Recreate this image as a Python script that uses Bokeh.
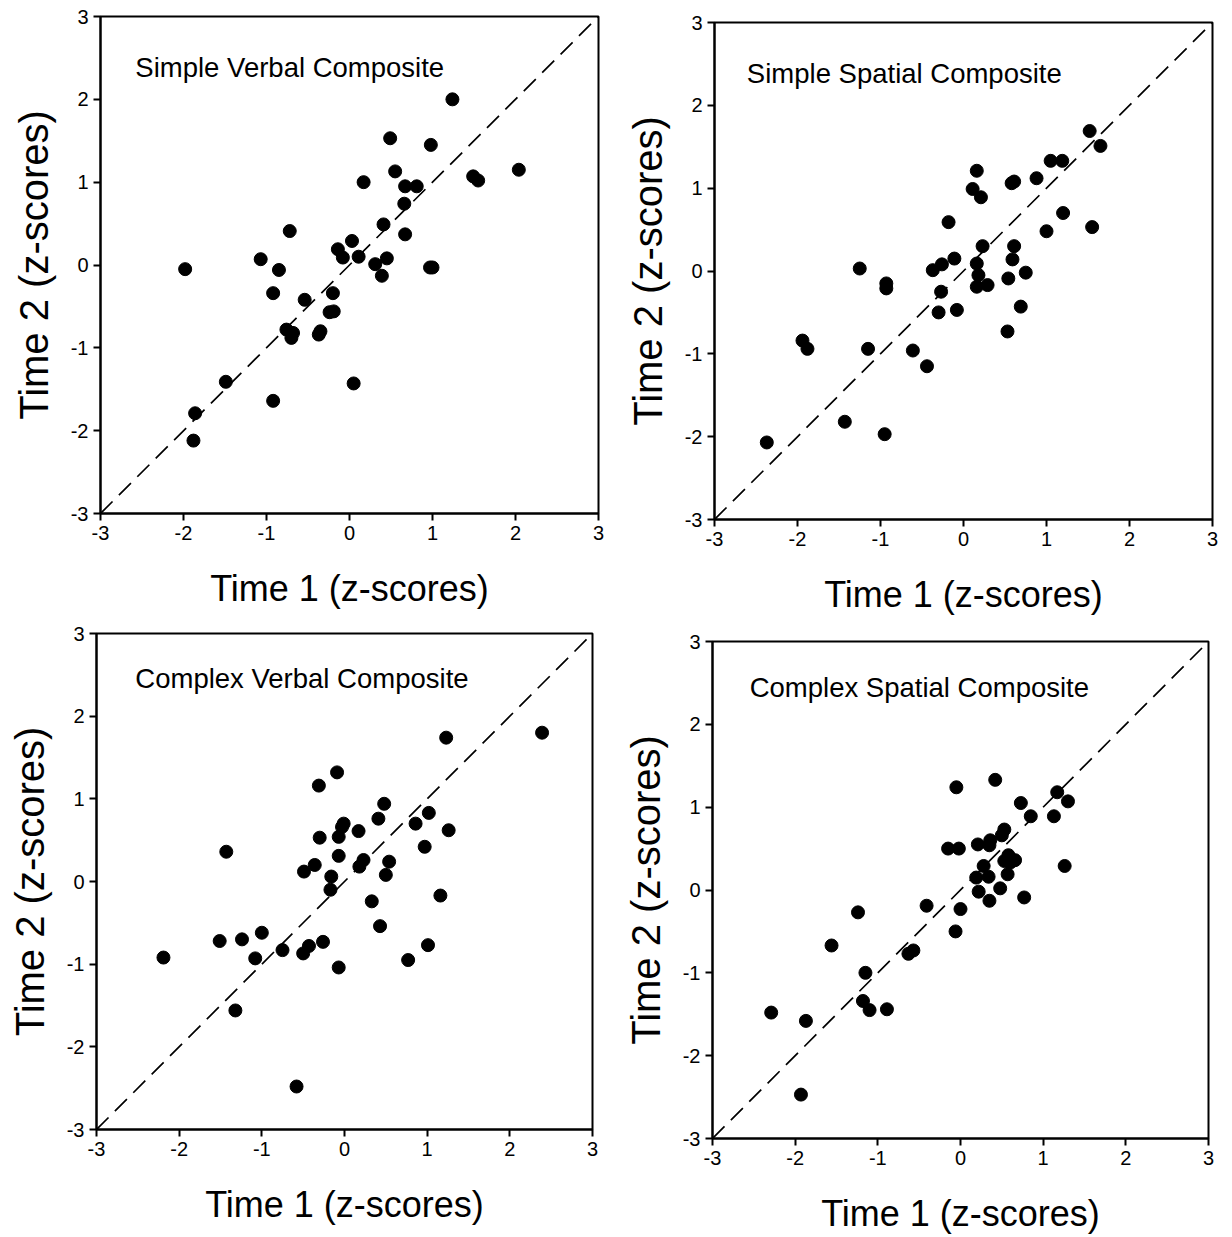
from bokeh.plotting import figure
from bokeh.layouts import column, row
from bokeh.models import Range1d, FixedTicker, Label
from bokeh.embed import file_html
from bokeh.resources import INLINE

# ---------------- data ----------------
tick_values = [-3, -2, -1, 0, 1, 2, 3]
tick_labels = ["-3", "-2", "-1", "0", "1", "2", "3"]
identity_line = [-3, 3]

titles = ["Simple Verbal Composite", "Simple Spatial Composite",
          "Complex Verbal Composite", "Complex Spatial Composite"]
x_label = "Time 1 (z-scores)"
y_label = "Time 2 (z-scores)"

sv_t1 = [-1.98, -1.07, -0.85, -0.92, -0.72, -0.54, -0.20, -0.24, -0.19, -0.76,
         -0.68, -0.70, -0.35, -0.37, -0.14, -0.08, 0.03, -1.49, -0.92, -1.86,
         -1.88, 0.05, 1.24, 0.49, 0.98, 2.04, 0.55, 1.49, 1.55, 0.17,
         0.67, 0.81, 0.66, 0.41, 0.67, 0.11, 0.45, 0.31, 0.39, 0.97, 1.00]
sv_t2 = [-0.05, 0.07, -0.06, -0.34, 0.41, -0.42, -0.34, -0.57, -0.56, -0.78,
         -0.82, -0.88, -0.80, -0.84, 0.19, 0.09, 0.29, -1.41, -1.64, -1.79,
         -2.12, -1.43, 2.00, 1.53, 1.45, 1.15, 1.13, 1.07, 1.02, 1.00,
         0.95, 0.95, 0.74, 0.49, 0.37, 0.10, 0.08, 0.01, -0.13, -0.03, -0.03]

ss_t1 = [-0.18, -0.11, -0.26, -0.37, -1.25, -0.93, -0.93, -0.27, -0.30, -0.08,
         -1.94, -1.88, -1.15, -0.61, -0.44, -1.43, -0.95, -2.37, 1.52, 1.65,
         1.05, 1.19, 0.16, 0.11, 0.21, 0.58, 0.61, 0.88, 1.20, 1.00,
         1.55, 0.23, 0.61, 0.59, 0.16, 0.75, 0.54, 0.18, 0.16, 0.29,
         0.69, 0.53]
ss_t2 = [0.59, 0.15, 0.08, 0.01, 0.03, -0.15, -0.21, -0.25, -0.50, -0.47,
         -0.84, -0.94, -0.94, -0.96, -1.15, -1.82, -1.97, -2.07, 1.69, 1.51,
         1.33, 1.33, 1.21, 0.99, 0.89, 1.06, 1.08, 1.12, 0.70, 0.48,
         0.53, 0.30, 0.30, 0.14, 0.09, -0.02, -0.09, -0.05, -0.19, -0.17,
         -0.43, -0.73]

cv_t1 = [-0.09, -0.31, -0.01, -0.03, -0.30, -0.07, -1.43, -0.07, -0.36, -0.49,
         -0.16, -0.17, -1.00, -1.51, -1.24, -2.19, -1.08, -0.75, -0.43, -0.50,
         -0.26, -0.07, -1.32, -0.58, 2.39, 1.23, 0.48, 0.41, 1.02, 0.86,
         1.26, 0.17, 0.97, 0.23, 0.18, 0.54, 0.50, 0.33, 1.16, 0.43,
         1.01, 0.77]
cv_t2 = [1.32, 1.16, 0.70, 0.66, 0.53, 0.54, 0.36, 0.31, 0.20, 0.12,
         0.06, -0.10, -0.62, -0.72, -0.70, -0.92, -0.93, -0.83, -0.78, -0.87,
         -0.73, -1.04, -1.56, -2.48, 1.80, 1.74, 0.94, 0.76, 0.83, 0.70,
         0.62, 0.61, 0.42, 0.26, 0.18, 0.24, 0.08, -0.24, -0.17, -0.54,
         -0.77, -0.95]

cs_t1 = [-0.05, -0.15, -0.02, -0.41, -1.24, 0.00, -0.06, -1.56, -0.63, -0.57,
         -1.15, -1.18, -1.10, -0.89, -2.29, -1.87, -1.93, 0.42, 0.73, 1.17,
         1.30, 0.85, 1.13, 0.21, 0.36, 0.35, 0.53, 0.50, 1.26, 0.28,
         0.58, 0.53, 0.66, 0.60, 0.19, 0.34, 0.57, 0.22, 0.48, 0.35,
         0.77]
cs_t2 = [1.24, 0.50, 0.50, -0.19, -0.27, -0.23, -0.50, -0.67, -0.77, -0.73,
         -1.00, -1.34, -1.45, -1.44, -1.48, -1.58, -2.47, 1.33, 1.05, 1.18,
         1.07, 0.89, 0.89, 0.55, 0.60, 0.54, 0.73, 0.66, 0.29, 0.29,
         0.42, 0.35, 0.36, 0.33, 0.15, 0.16, 0.19, -0.02, 0.02, -0.13,
         -0.09]

# ---------------- styling / layout ----------------
FONT = "Liberation Sans"

panels = [
    dict(xs=sv_t1, ys=sv_t2, title=titles[0], h=620, borders=(100, 18, 16, 107), lab=(-2.58, 2.39)),
    dict(xs=ss_t1, ys=ss_t2, title=titles[1], h=620, borders=(98, 20, 22, 101), lab=(-2.61, 2.39)),
    dict(xs=cv_t1, ys=cv_t2, title=titles[2], h=617, borders=(96, 24, 13, 108), lab=(-2.53, 2.46)),
    dict(xs=cs_t1, ys=cs_t2, title=titles[3], h=617, borders=(96, 24, 21, 99), lab=(-2.55, 2.45)),
]

figs = []
for pn in panels:
    bl, br, bt, bb = pn["borders"]
    p = figure(width=616, height=pn["h"], output_backend="svg", toolbar_location=None,
               x_range=Range1d(-3, 3), y_range=Range1d(-3, 3),
               min_border_left=bl, min_border_right=br,
               min_border_top=bt, min_border_bottom=bb)
    p.grid.visible = False
    p.outline_line_color = "black"
    p.outline_line_width = 2
    p.outline_line_alpha = 1.0
    p.background_fill_color = "white"
    p.border_fill_color = "white"

    for ax in (p.xaxis[0], p.yaxis[0]):
        ax.ticker = FixedTicker(ticks=tick_values)
        ax.major_label_overrides = {v: s for v, s in zip(tick_values, tick_labels)}
        ax.minor_tick_line_color = None
        ax.major_tick_in = 0
        ax.major_tick_out = 7
        ax.major_tick_line_width = 2
        ax.major_tick_line_color = "black"
        ax.axis_line_width = 2
        ax.axis_line_color = "black"
        ax.major_label_text_font = FONT
        ax.major_label_text_font_size = "20px"
        ax.major_label_text_color = "black"
        ax.axis_label_text_font = FONT
        ax.axis_label_text_font_style = "normal"
        ax.axis_label_text_color = "black"
        ax.major_label_standoff = 5

    p.xaxis[0].axis_label = x_label
    p.xaxis[0].axis_label_text_font_size = "36px"
    p.xaxis[0].axis_label_standoff = 25
    p.yaxis[0].axis_label = y_label
    p.yaxis[0].axis_label_text_font_size = "40px"
    p.yaxis[0].axis_label_standoff = 12

    p.line(identity_line, identity_line, line_color="black", line_width=1.7,
           line_dash="17 9")
    p.scatter(pn["xs"], pn["ys"], size=13, marker="circle",
              fill_color="black", line_color="black")

    p.add_layout(Label(x=pn["lab"][0], y=pn["lab"][1], text=pn["title"],
                       text_font=FONT, text_font_size="27.5px", text_color="black",
                       text_baseline="middle", text_align="left"))
    figs.append(p)

layout = column(row(column(figs[0]), column(figs[1])),
                row(column(figs[2]), column(figs[3])))
open("out.html", "w").write(file_html(layout, INLINE))
